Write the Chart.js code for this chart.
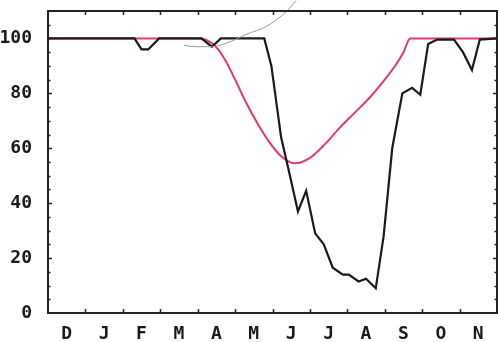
<!DOCTYPE html>
<html>
<head>
<meta charset="utf-8">
<script src="https://cdn.jsdelivr.net/npm/chart.js@4"></script>
<style>
  html, body { margin: 0; padding: 0; background: #fff; }
  canvas { display: block; }
</style>
</head>
<body>
<canvas id="chart" width="498" height="342"></canvas>
<script>
// Months, starting at December; x is measured in months from 1 Dec
const MONTHS = ['D', 'J', 'F', 'M', 'A', 'M', 'J', 'J', 'A', 'S', 'O', 'N'];
const Y_TICKS = [0, 20, 40, 60, 80, 100];

// Black series (observed)
const OBS_X = [0, 2.31, 2.5, 2.68, 2.97, 4.1, 4.38, 4.62, 5.78, 5.97, 6.23, 6.45, 6.68, 6.9,
    7.14, 7.37, 7.61, 7.88, 8.04, 8.3, 8.5, 8.76, 8.97, 9.2, 9.47, 9.73, 9.95, 10.16, 10.4,
    10.85, 11.09, 11.33, 11.54, 12];
const OBS_Y = [100, 100, 96, 96, 100, 100, 97, 100, 100, 90, 64, 51, 37, 44.5,
    29, 25, 16.5, 14, 14, 11.5, 12.5, 9, 28, 60, 80, 82, 79.5, 98, 99.6,
    99.6, 95, 88.5, 99.6, 100];

// Pink series (smooth curve)
const CURVE_X = [0, 4.1, 4.25, 4.45, 4.7, 5.0, 5.3, 5.6, 5.9, 6.2, 6.6, 7.0, 7.4, 7.8, 8.2, 8.6, 9.0, 9.3, 9.5, 9.68, 12];
const CURVE_Y = [100, 100, 99.3, 97.5, 93, 85, 76.5, 69, 62.5, 57.5, 54.5, 56.5, 61.5, 67.5, 73, 78.5, 85, 90.5, 95, 100, 100];

// Thin hand-drawn arc near the top
const ARC_X = [3.63, 3.95, 4.38, 4.9, 5.3, 5.84, 6.37, 6.63];
const ARC_Y = [97.5, 97, 97, 99, 101.5, 104.4, 109.8, 113.8];

const pts = (xs, ys) => xs.map((x, i) => ({ x, y: ys[i] }));

// Frame with inward tick marks, like the original plot
const frameTicks = {
    id: 'frameTicks',
    afterDatasetsDraw(chart) {
        const { ctx, chartArea: a, scales: { x, y } } = chart;
        ctx.save();
        ctx.strokeStyle = '#222';
        ctx.lineWidth = 2;
        ctx.strokeRect(a.left, a.top, a.right - a.left, a.bottom - a.top);
        ctx.lineWidth = 1.5;
        ctx.beginPath();
        for (let m = 1; m < 12; m++) {
            const px = Math.round(x.getPixelForValue(m)) + 0.5;
            ctx.moveTo(px, a.bottom); ctx.lineTo(px, a.bottom - 4);
            ctx.moveTo(px, a.top); ctx.lineTo(px, a.top + 4);
        }
        for (let v = 5; v < 110; v += 5) {
            const py = Math.round(y.getPixelForValue(v)) + 0.5;
            const len = v % 20 === 0 ? 4 : 2.5;
            ctx.moveTo(a.left, py); ctx.lineTo(a.left + len, py);
            ctx.moveTo(a.right, py); ctx.lineTo(a.right - len, py);
        }
        ctx.stroke();
        ctx.restore();
    }
};

new Chart(document.getElementById('chart'), {
    type: 'line',
    data: {
        datasets: [
            { data: pts(CURVE_X, CURVE_Y), borderColor: '#e3367c', borderWidth: 2, pointRadius: 0,
              cubicInterpolationMode: 'monotone', order: 2 },
            { data: pts(OBS_X, OBS_Y), borderColor: '#1a1a1a', borderWidth: 2.2, pointRadius: 0,
              tension: 0, order: 1 },
            { data: pts(ARC_X, ARC_Y), borderColor: '#9c9a84', borderWidth: 1, pointRadius: 0,
              cubicInterpolationMode: 'monotone', clip: false, order: 0 },
        ]
    },
    plugins: [frameTicks],
    options: {
        responsive: false,
        animation: false,
        events: [],
        layout: { padding: { top: 11, right: 1, left: 0, bottom: 0 } },
        plugins: { legend: { display: false }, tooltip: { enabled: false } },
        scales: {
            x: {
                type: 'linear', min: 0, max: 12,
                grid: { display: false },
                border: { display: false },
                afterBuildTicks: s => { s.ticks = MONTHS.map((_, i) => ({ value: i + 0.5 })); },
                afterFit: s => { s.height = 29; s.paddingLeft = 0; s.paddingRight = 0; },
                ticks: {
                    autoSkip: false, maxRotation: 0, padding: 3, color: '#1a1a1a',
                    font: { family: 'DejaVu Sans Mono', size: 18, weight: 'bold' },
                    callback: v => MONTHS[Math.floor(v)]
                }
            },
            y: {
                min: 0, max: 110,
                grid: { display: false },
                border: { display: false },
                afterBuildTicks: s => { s.ticks = Y_TICKS.map(v => ({ value: v })); },
                afterFit: s => { s.width = 48; s.paddingTop = 0; s.paddingBottom = 0; },
                ticks: {
                    padding: 8, color: '#1a1a1a',
                    font: { family: 'DejaVu Sans Mono', size: 18, weight: 'bold' }
                }
            }
        }
    }
});
</script>
</body>
</html>
